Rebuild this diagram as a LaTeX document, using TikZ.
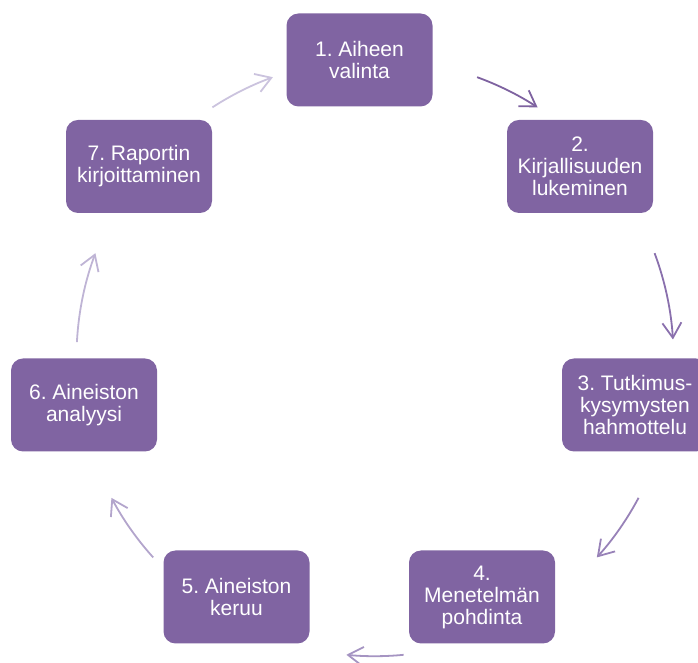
\documentclass[tikz,border=0pt]{standalone}
\usepackage{fontspec}
\setmainfont{Liberation Sans}
\frenchspacing
\usetikzlibrary{arrows.meta}
\definecolor{vaihevari}{HTML}{8064A2}
\definecolor{nuoli1}{HTML}{7E62A0}
\definecolor{nuoli2}{HTML}{8A70AD}
\definecolor{nuoli3}{HTML}{9882B8}
\definecolor{nuoli4}{HTML}{A594C2}
\definecolor{nuoli5}{HTML}{B3A5CC}
\definecolor{nuoli6}{HTML}{BFB4D5}
\definecolor{nuoli7}{HTML}{CBC3DE}

\begin{document}
\begin{tikzpicture}[x=1pt,y=1pt,
	vaihe/.style={rectangle,rounded corners=12pt,fill=vaihevari,text=white,minimum width=146pt,minimum height=93pt,inner sep=2pt,align=center,font=\fontsize{21}{22}\selectfont\frenchspacing},
	kaari/.style={line width=1.8pt,-{Straight Barb[length=15pt,width=19pt]}}]
\useasboundingbox (0,0) rectangle (698,663);
\clip (0,0) rectangle (698,663);

\node[vaihe] (aihe) at (359.5,603) {1. Aiheen\\valinta};
\node[vaihe] (kirjallisuus) at (580,496.5) {2.\\Kirjallisuuden\\lukeminen};
\node[vaihe] (kysymykset) at (635,258) {3. Tutkimus-\\kysymysten\\hahmottelu};
\node[vaihe] (menetelma) at (482,66) {4.\\Menetelmän\\pohdinta};
\node[vaihe] (keruu) at (236.5,66) {5. Aineiston\\keruu};
\node[vaihe] (analyysi) at (84,258) {6. Aineiston\\analyysi};
\node[vaihe] (raportti) at (139,496.5) {7. Raportin\\kirjoittaminen};

\coordinate (kehakeski) at (375,305.3);
\draw[kaari,nuoli1] (kehakeski) ++(70:298.5) arc[start angle=70,end angle=57,radius=298.5];
\draw[kaari,nuoli2] (kehakeski) ++(20.5:298.5) arc[start angle=20.5,end angle=3.5,radius=298.5];
\draw[kaari,nuoli3] (kehakeski) ++(-28:298.5) arc[start angle=-28,end angle=-42,radius=298.5];
\draw[kaari,nuoli4] (kehakeski) ++(-84.5:298.5) arc[start angle=-84.5,end angle=-95.5,radius=298.5];
\draw[kaari,nuoli5] (kehakeski) ++(-138:298.5) arc[start angle=-138,end angle=-152,radius=298.5];
\draw[kaari,nuoli6] (kehakeski) ++(177:298.5) arc[start angle=177,end angle=159.5,radius=298.5];
\draw[kaari,nuoli7] (kehakeski) ++(123:298.5) arc[start angle=123,end angle=110,radius=298.5];

\end{tikzpicture}
\end{document}
